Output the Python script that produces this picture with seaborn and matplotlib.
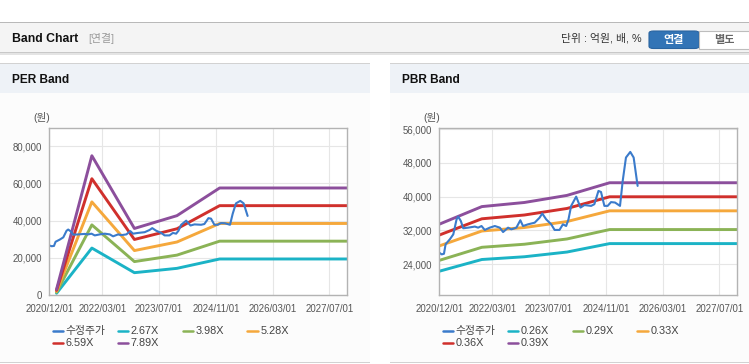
import matplotlib
matplotlib.use("Agg")
import pandas as pd
import matplotlib.pyplot as plt
import matplotlib.dates as mdates
import seaborn as sns
from matplotlib.patches import Rectangle, FancyBboxPatch
from matplotlib.lines import Line2D
from matplotlib.ticker import FuncFormatter

# ---- data ----
price_dates = ["2020-12-01", "2020-12-21", "2021-01-10", "2021-01-24", "2021-03-02",
               "2021-03-31", "2021-04-28", "2021-05-12", "2021-06-04", "2021-06-24",
               "2021-08-06", "2021-10-02", "2021-10-30", "2021-11-28", "2021-12-26",
               "2022-02-07", "2022-03-22", "2022-05-04", "2022-06-01", "2022-07-14",
               "2022-08-11", "2022-09-23", "2022-10-27", "2022-11-19", "2023-01-01",
               "2023-02-27", "2023-04-10", "2023-05-03", "2023-06-06", "2023-07-19",
               "2023-08-17", "2023-09-28", "2023-10-27", "2023-11-24", "2023-12-14",
               "2024-01-06", "2024-02-18", "2024-03-26", "2024-04-29", "2024-06-25",
               "2024-07-23", "2024-08-27", "2024-09-18", "2024-10-17", "2024-11-14",
               "2024-12-13", "2025-01-16", "2025-02-28", "2025-03-23", "2025-04-20",
               "2025-05-27", "2025-06-25", "2025-07-29"]
price_values = [26700, 26300, 26450, 28700, 29900,
                31050, 34600, 35250, 34200, 32500,
                32640, 32900, 32640, 33030, 32100,
                32640, 33030, 32640, 31600, 32640,
                32240, 32640, 34400, 33030, 33430,
                33820, 35000, 36000, 34600, 33430,
                32100, 32100, 33430, 33030, 34600,
                37800, 40000, 37400, 38000, 37800,
                38200, 41350, 41100, 37800, 37800,
                38700, 38600, 37800, 43700, 49270,
                50600, 49270, 42540]

per_dates = ["2021-02-01", "2021-12-01", "2022-12-01", "2023-12-01", "2024-12-01", "2027-12-01"]
per_eps = [400, 9480, 4540, 5410, 7290, 7290]
per_multiples = [2.67, 3.98, 5.28, 6.59, 7.89]
per_labels = ["2.67X", "3.98X", "5.28X", "6.59X", "7.89X"]

pbr_dates = ["2020-12-01", "2021-12-01", "2022-12-01", "2023-12-01", "2024-12-01", "2027-12-01"]
pbr_bps = [85800, 96500, 99000, 103300, 111000, 111000]
pbr_multiples = [0.26, 0.29, 0.33, 0.36, 0.39]
pbr_labels = ["0.26X", "0.29X", "0.33X", "0.36X", "0.39X"]

x_ticks = ["2020-12-01", "2022-03-01", "2023-07-01", "2024-11-01", "2026-03-01", "2027-07-01"]
per_yticks = [0, 20000, 40000, 60000, 80000]
pbr_yticks = [24000, 32000, 40000, 48000, 56000]

price_color = "#3b7bcb"
band_colors = ["#1bb3c6", "#8bb356", "#f5a83c", "#d0302c", "#8c4f9c"]

# ---- figure ----
sns.set_style("white")
plt.rcParams["font.family"] = ["Liberation Sans", "Noto Sans CJK KR", "DejaVu Sans"]

W, H = 749, 364
fig = plt.figure(figsize=(W / 100, H / 100), dpi=100)
fig.patch.set_facecolor("white")


def fx(x):
    return x / W


def fy(y):
    return 1 - y / H


def rect(x0, y0, x1, y1, fc, ec="none", lw=0):
    fig.add_artist(Rectangle((fx(x0), fy(y1)), (x1 - x0) / W, (y1 - y0) / H,
                             transform=fig.transFigure, facecolor=fc,
                             edgecolor=ec, linewidth=lw, zorder=-5))


# header bar
rect(0, 22, W, 52.5, "#f4f4f4")
rect(0, 22, W, 23.2, "#b9b9b9")
rect(0, 52, W, 53.2, "#c8c8c8")
rect(0, 53.2, W, 54.5, "#e4e4e4")
fig.text(fx(12), fy(38.5), "Band Chart", fontsize=8.8, fontweight="bold",
         color="#111111", va="center", ha="left")
fig.text(fx(88), fy(38.5), "[연결]", fontsize=7.8, color="#999999",
         va="center", ha="left")
fig.text(fx(641.5), fy(38.5), "단위 : 억원, 배, %", fontsize=7.8, color="#333333",
         va="center", ha="right")
fig.add_artist(FancyBboxPatch((fx(649), fy(48.5)), (699 - 649) / W, 17.5 / H,
                              boxstyle="round,pad=0,rounding_size=0.006",
                              transform=fig.transFigure, facecolor="#3274b6",
                              edgecolor="#2a64a0", linewidth=0.8))
fig.add_artist(Rectangle((fx(699), fy(48.5)), 52 / W, 17.5 / H,
                         transform=fig.transFigure, facecolor="white",
                         edgecolor="#bdbdbd", linewidth=0.8))
fig.text(fx(674), fy(39.5), "연결", fontsize=8, fontweight="bold", color="white",
         va="center", ha="center")
fig.text(fx(724), fy(39.5), "별도", fontsize=8, fontweight="bold", color="#666666",
         va="center", ha="center")

# panels
for ox, x1, title in [(0, 370, "PER Band"), (390, W, "PBR Band")]:
    rect(ox, 63.5, x1, 93, "#eef2f7")
    rect(ox, 63, x1, 64.2, "#d2d2d2")
    rect(ox, 93, x1, 362, "#fcfcfc")
    rect(ox, 362, x1, 363.2, "#d2d2d2")
    fig.text(fx(ox + 12), fy(80), title, fontsize=8.6, fontweight="bold",
             color="#111111", va="center", ha="left")
    fig.text(fx(ox + 33), fy(118), "(원)", fontsize=7.6, color="#555555",
             va="center", ha="left")

ax_per = fig.add_axes([fx(49.3), fy(295.3), 298 / W, 167 / H])
ax_pbr = fig.add_axes([fx(439.3), fy(295.3), 298 / W, 167 / H])


def draw_band(ax, dates, base, multiples, ylim, yticks):
    d = pd.to_datetime(dates)
    for m, c in zip(multiples, band_colors):
        sns.lineplot(x=d, y=[b * m for b in base], ax=ax, color=c, lw=2.1)
    sns.lineplot(x=pd.to_datetime(price_dates), y=price_values, ax=ax,
                 color=price_color, lw=1.5)
    ax.set_facecolor("white")
    ax.set_xlim(pd.Timestamp("2020-12-01"), pd.Timestamp("2027-12-01"))
    ax.set_ylim(*ylim)
    ax.set_xticks(pd.to_datetime(x_ticks))
    ax.xaxis.set_major_formatter(mdates.DateFormatter("%Y/%m/%d"))
    ax.set_yticks(yticks)
    ax.yaxis.set_major_formatter(FuncFormatter(lambda v, p: f"{v:,.0f}"))
    ax.grid(True, color="#e6e6e6", lw=0.8)
    ax.set_axisbelow(True)
    for s in ax.spines.values():
        s.set_color("#b3b3b3")
        s.set_linewidth(1.0)
    ax.tick_params(axis="both", length=2.5, width=0.8, color="#aaaaaa",
                   labelsize=6.9, labelcolor="#555555", pad=2.5)
    ax.tick_params(axis="x", pad=3.5)
    ax.set_xlabel("")
    ax.set_ylabel("")


draw_band(ax_per, per_dates, per_eps, per_multiples, (0, 89500), per_yticks)
draw_band(ax_pbr, pbr_dates, pbr_bps, pbr_multiples, (16600, 56200), pbr_yticks)

# legends (row-major, fixed column spacing as in the original)
col_x = [52.7, 117.7, 182.7, 247.3]
row_y = [330.7, 343.3]
for ox, labels in [(0, per_labels), (390, pbr_labels)]:
    entries = [("수정주가", price_color)] + list(zip(labels, band_colors))
    for i, (lab, col) in enumerate(entries):
        x = ox + col_x[i % 4]
        y = row_y[i // 4]
        fig.add_artist(Line2D([fx(x), fx(x + 10.5)], [fy(y), fy(y)],
                              transform=fig.transFigure, color=col, lw=1.8))
        fig.text(fx(x + 13), fy(y), lab, fontsize=7.8, color="#444444",
                 va="center", ha="left")

fig.savefig("out.png", dpi=100)
